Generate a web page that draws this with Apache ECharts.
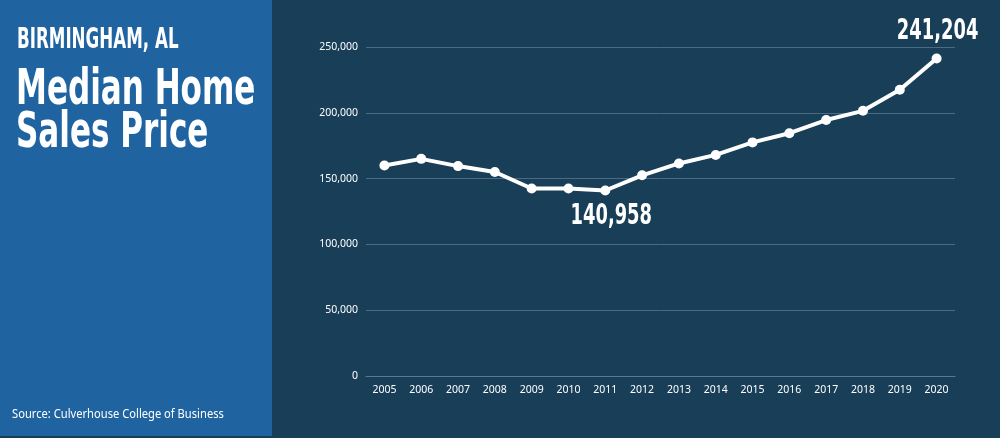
<!DOCTYPE html>
<html>
<head>
<meta charset="utf-8">
<script src="https://cdn.jsdelivr.net/npm/echarts@6/dist/echarts.min.js"></script>
<style>
html,body{margin:0;padding:0;background:#183e58;}
#chart{width:1000px;height:438px;}
</style>
</head>
<body>
<div id="chart"></div>
<script>
const years = ['2005','2006','2007','2008','2009','2010','2011','2012','2013','2014','2015','2016','2017','2018','2019','2020'];
const prices = [160000,165000,159500,155000,142500,142500,140958,152500,161500,168000,177500,184500,194500,201500,217500,241204];
const yTicks = [0,50000,100000,150000,200000,250000];
const subtitle = 'BIRMINGHAM, AL';
const titleLines = ['Median Home','Sales Price'];
const source = 'Source: Culverhouse College of Business';
const labelBelowYear = '2011';
const labelAboveYear = '2020';

const chart = echarts.init(document.getElementById('chart'), null, {renderer:'canvas'});
const condensed = '"Liberation Sans Narrow","DejaVu Sans Condensed",sans-serif';
const fmt = v => v.toLocaleString('en-US');

chart.setOption({
  backgroundColor:'#183e58',
  animation:false,
  grid:{left:366, right:45, top:47, bottom:62},
  xAxis:{
    type:'category', data:years, boundaryGap:true,
    axisLine:{show:true, lineStyle:{color:'#5a7a90', width:1}},
    axisTick:{show:false},
    axisLabel:{color:'#ffffff', fontSize:10.5, margin:9, fontFamily:'"Noto Sans",sans-serif', interval:0}
  },
  yAxis:{
    type:'value', min:yTicks[0], max:yTicks[yTicks.length-1], interval:yTicks[1]-yTicks[0],
    axisLine:{show:false}, axisTick:{show:false},
    splitLine:{lineStyle:{color:'#4a6b82', width:1}},
    axisLabel:{color:'#ffffff', fontSize:10.5, margin:8, fontFamily:'"Noto Sans",sans-serif', formatter:fmt}
  },
  series:[{
    type:'line', data:prices,
    lineStyle:{color:'#ffffff', width:4},
    itemStyle:{color:'#ffffff'},
    symbol:'circle', symbolSize:10, showSymbol:true,
    z:3
  }]
});

const iLow = years.indexOf(labelBelowYear);
const iHigh = years.indexOf(labelAboveYear);
const pLow = chart.convertToPixel({gridIndex:0}, [iLow, prices[iLow]]);
const pHigh = chart.convertToPixel({gridIndex:0}, [iHigh, prices[iHigh]]);
const bigLabelFont = 'bold 28px "DejaVu Sans Condensed",sans-serif';
const sx = 0.71;

chart.setOption({
  graphic:[
    {type:'rect', left:0, top:0, shape:{width:272, height:436}, style:{fill:'#1f64a0'}, z:0},
    {type:'text', left:17, top:26, style:{text:subtitle, fill:'#ffffff', font:'bold 29px '+condensed}, scaleX:0.64, z:2},
    {type:'text', left:16, top:66, style:{text:titleLines[0], fill:'#ffffff', font:'bold 50px '+condensed}, scaleX:0.69, z:2},
    {type:'text', left:16, top:109, style:{text:titleLines[1], fill:'#ffffff', font:'bold 50px '+condensed}, scaleX:0.69, z:2},
    {type:'text', left:12, top:409, style:{text:source, fill:'#ffffff', font:'12px "Noto Sans",sans-serif'}, scaleX:0.93, z:2},
    {type:'text', x:pLow[0]+6, y:pLow[1]+12, scaleX:sx, style:{text:fmt(prices[iLow]), fill:'#ffffff', font:bigLabelFont, align:'center', verticalAlign:'top'}, z:5},
    {type:'text', x:pHigh[0]+1, y:pHigh[1]-13, scaleX:sx, style:{text:fmt(prices[iHigh]), fill:'#ffffff', font:bigLabelFont, align:'center', verticalAlign:'bottom'}, z:5}
  ]
});
</script>
</body>
</html>
